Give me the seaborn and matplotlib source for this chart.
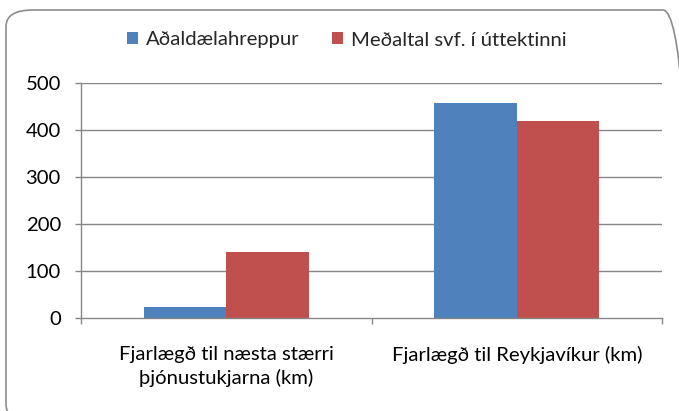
import matplotlib
matplotlib.use("Agg")
import matplotlib.pyplot as plt
import seaborn as sns
import pandas as pd
from matplotlib.patches import FancyBboxPatch

categories = ["Fjarlægð til næsta stærri\nþjónustukjarna (km)", "Fjarlægð til Reykjavíkur (km)"]
series_names = ["Aðaldælahreppur", "Meðaltal svf. í úttektinni"]
values_a = [24, 457]
values_b = [141, 419]
yticks = [0, 100, 200, 300, 400, 500]
colors = ["#4F81BD", "#C0504D"]

df = pd.DataFrame({
    "cat": categories * 2,
    "series": [series_names[0]] * 2 + [series_names[1]] * 2,
    "value": values_a + values_b,
})

sns.set_style("white")
plt.rcParams["font.family"] = ["Lato", "DejaVu Sans"]

FS = 14.6
W, H = 679, 411
fig = plt.figure(figsize=(W / 100, H / 100), dpi=100)
ax = fig.add_axes([81 / W, 1 - 318.3 / H, (662 - 81) / W, (318.3 - 82.7) / H])

sns.barplot(data=df, x="cat", y="value", hue="series", palette=colors,
            width=0.567, gap=0, saturation=1, ax=ax, legend=True, edgecolor="none")

ax.set_xlim(-0.5, 1.5)
ax.set_ylim(0, 500)
ax.set_yticks(yticks)
ax.set_yticklabels([str(v) for v in yticks], fontsize=FS, color="#000000")
ax.set_xlabel("")
ax.set_ylabel("")

grid_col = "#868686"
for v in yticks[1:]:
    ax.axhline(v, color=grid_col, lw=1.0, zorder=0)

for s in ["top", "right"]:
    ax.spines[s].set_visible(False)
for s in ["left", "bottom"]:
    ax.spines[s].set_color(grid_col)
    ax.spines[s].set_linewidth(1.0)

ax.tick_params(axis="y", which="major", direction="out", length=4.5, width=1.0,
               color=grid_col, pad=10, left=True)
# x: ticks at category boundaries, labels at centers
ax.set_xticks([-0.5, 0.5, 1.5])
ax.set_xticklabels(["", "", ""])
ax.tick_params(axis="x", which="major", direction="out", length=4.5, width=1.0,
               color=grid_col, bottom=True)
ax.set_xticks([0, 1], minor=True)
ax.set_xticklabels(categories, minor=True, fontsize=FS, color="#000000",
                   linespacing=1.4)
ax.tick_params(axis="x", which="minor", length=0, pad=20)

leg = ax.get_legend()
handles = leg.legend_handles
leg.remove()
fig.legend(handles, series_names, loc="center", bbox_to_anchor=(347 / W, 1 - 40 / H),
           ncol=2, frameon=False, fontsize=FS, handlelength=0.55, handleheight=0.55,
           handletextpad=0.4, columnspacing=1.6)

border = FancyBboxPatch((6 / W, -10 / H), (690 - 6) / W, (H - 10 + 10) / H - 0.0,
                        boxstyle="round,pad=0,rounding_size=0.04",
                        transform=fig.transFigure, fill=False,
                        edgecolor="#8C8C8C", lw=1.2, clip_on=False)
fig.patches.append(border)

fig.savefig("out.png", dpi=100)
